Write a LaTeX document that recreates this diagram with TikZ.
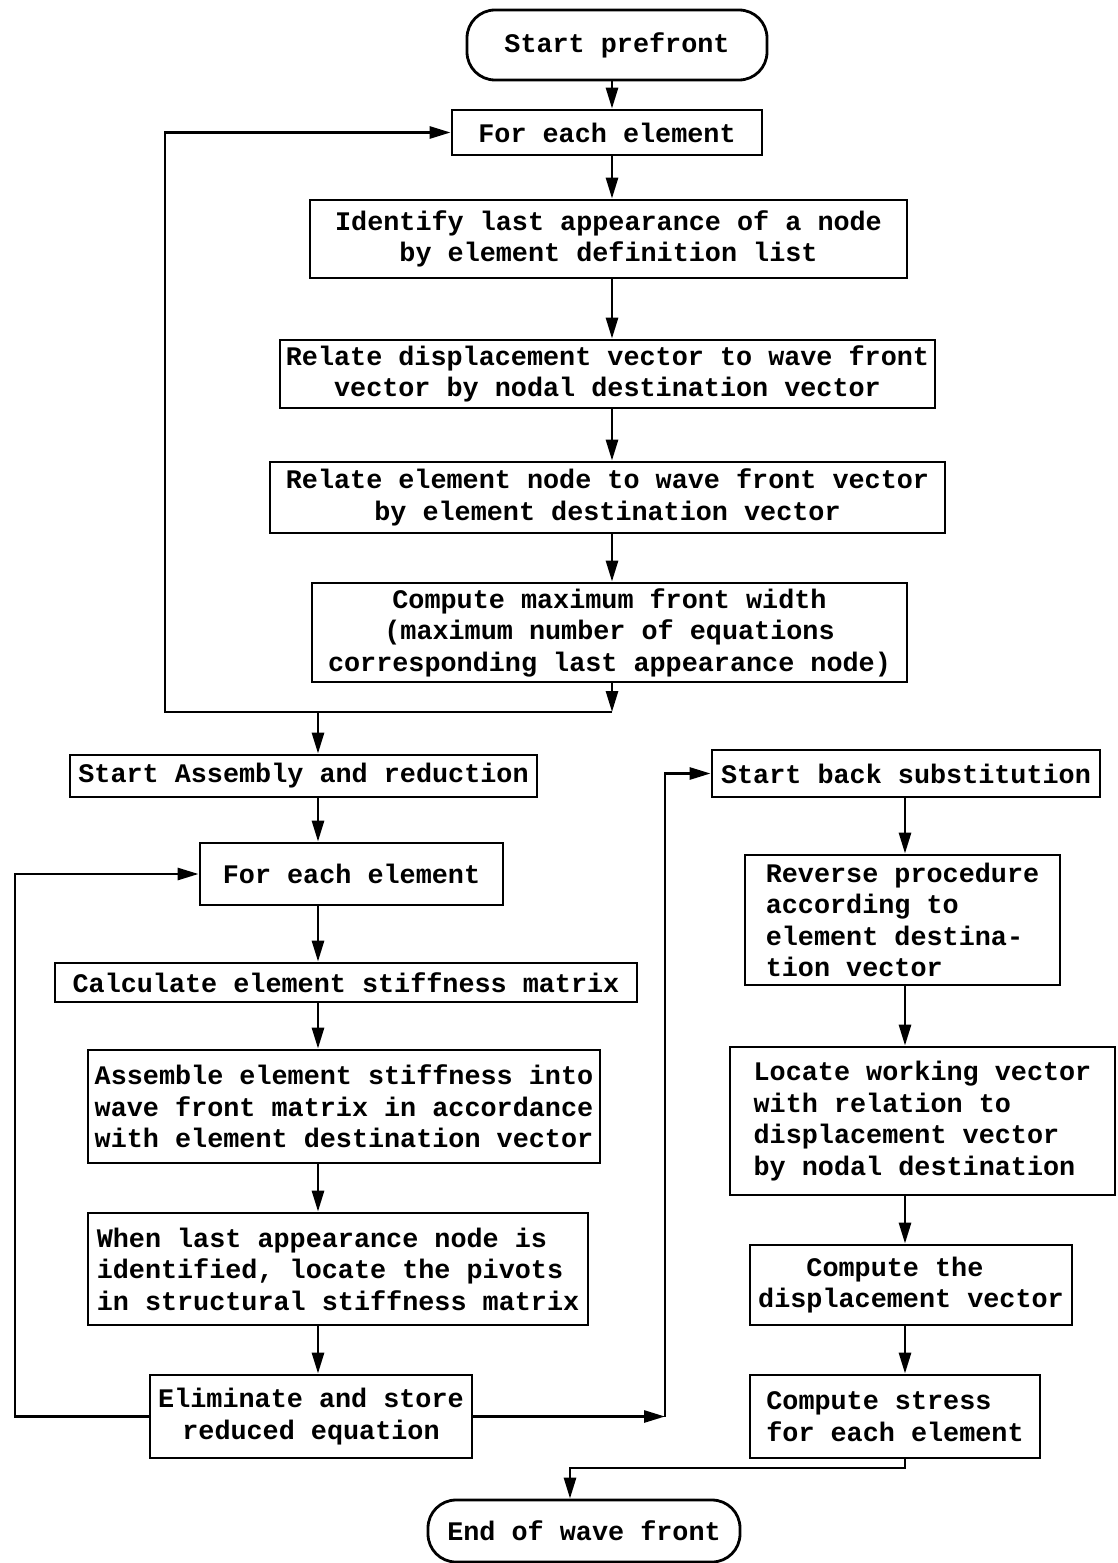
\documentclass[tikz,border=0pt]{standalone}
\usepackage{fontspec}
\setmonofont{Liberation Mono}
\usetikzlibrary{arrows.meta}
\begin{document}
\begin{tikzpicture}[x=1pt,y=-1pt,
 box/.style={draw, line width=2.8pt, inner sep=0pt,
   font=\ttfamily\bfseries\fontsize{26.8}{31.5}\selectfont, align=center},
 term/.style={box, rounded corners=28pt},
 arr/.style={line width=2.8pt, -{Triangle[length=21pt,width=12pt]}},
 ln/.style={line width=2.8pt}]
\useasboundingbox (0,0) rectangle (1117,1563);
% columns
\coordinate (colM) at (612,0);
\coordinate (colL) at (318,0);
\coordinate (colR) at (905,0);
% main column
\node[term, minimum width=300pt, minimum height=70pt] (start) at (617,45) {Start prefront};
\node[box, minimum width=310pt, minimum height=45pt] (fe1) at (607,132.5) {For each element};
\node[box, minimum width=597pt, minimum height=78pt] (ident) at (608.5,239) {Identify last appearance of a node\\by element definition list};
\node[box, minimum width=655pt, minimum height=68pt] (reld) at (607.5,374) {Relate displacement vector to wave front\\vector by nodal destination vector};
\node[box, minimum width=675pt, minimum height=71pt] (rele) at (607.5,497.5) {Relate element node to wave front vector\\by element destination vector};
\node[box, minimum width=595pt, minimum height=99pt] (cmax) at (609.5,632.5) {Compute maximum front width\\(maximum number of equations\\corresponding last appearance node)};
% left column
\node[box, minimum width=467pt, minimum height=42pt] (sa) at (303.5,776) {Start Assembly and reduction};
\node[box, minimum width=303pt, minimum height=62pt] (fe2) at (351.5,874) {For each element};
\node[box, minimum width=582pt, minimum height=39pt] (calc) at (346,982.5) {Calculate element stiffness matrix};
\node[box, minimum width=512pt, minimum height=113pt, align=left] (asm) at (344,1106.5) {Assemble element stiffness into\\wave front matrix in accordance\\with element destination vector};
\node[box, minimum width=500pt, minimum height=112pt, align=left] (when) at (338,1269) {When last appearance node is\\identified, locate the pivots\\in structural stiffness matrix};
\node[box, minimum width=322pt, minimum height=83pt] (elim) at (311,1416.5) {Eliminate and store\\reduced equation};
% right column
\node[box, minimum width=388pt, minimum height=47pt] (sb) at (906,773.5) {Start back substitution};
\node[box, minimum width=315pt, minimum height=130pt, align=left] (rev) at (902.5,920) {Reverse procedure\\according to\\element destina-\\tion vector};
\node[box, minimum width=385pt, minimum height=148pt, align=left] (loc) at (922.5,1121) {Locate working vector\\with relation to\\displacement vector\\by nodal destination};
\node[box, minimum width=322pt, minimum height=80pt, align=left] (cdisp) at (911,1285) {\hphantom{Com}Compute the\\displacement vector};
\node[box, minimum width=290pt, minimum height=83pt, align=left] (cstr) at (895,1416.5) {Compute stress\\for each element};
\node[term, minimum width=312pt, minimum height=62pt] (end) at (584,1531) {End of wave front};
% junction coordinates
\coordinate (j1) at (612,712);
\coordinate (cL1) at (165,712);
\coordinate (cL2) at (15,1416.5);
\coordinate (j2) at (665,1416.5);
\coordinate (j3) at (905,1468);
\coordinate (j4) at (570,1468);
% main column arrows
\draw[arr] (start.south -| colM) -- (fe1.north -| colM);
\draw[arr] (fe1.south -| colM) -- (ident.north -| colM);
\draw[arr] (ident.south -| colM) -- (reld.north -| colM);
\draw[arr] (reld.south -| colM) -- (rele.north -| colM);
\draw[arr] (rele.south -| colM) -- (cmax.north -| colM);
\draw[arr] (cmax.south -| colM) -- (j1);
\draw[arr] (j1) -- (cL1) |- (fe1.west);
\draw[arr] (j1 -| colL) -- (sa.north -| colL);
% left column arrows
\draw[arr] (sa.south -| colL) -- (fe2.north -| colL);
\draw[arr] (fe2.south -| colL) -- (calc.north -| colL);
\draw[arr] (calc.south -| colL) -- (asm.north -| colL);
\draw[arr] (asm.south -| colL) -- (when.north -| colL);
\draw[arr] (when.south -| colL) -- (elim.north -| colL);
\draw[arr] (elim.west) -- (cL2) |- (fe2.west);
\draw[arr] (elim.east) -- (j2);
\draw[arr] (j2) |- (sb.west);
% right column arrows
\draw[arr] (sb.south -| colR) -- (rev.north -| colR);
\draw[arr] (rev.south -| colR) -- (loc.north -| colR);
\draw[arr] (loc.south -| colR) -- (cdisp.north -| colR);
\draw[arr] (cdisp.south -| colR) -- (cstr.north -| colR);
\draw[arr] (cstr.south -| colR) -- (j3) -- (j4) -- (end.north -| j4);
\end{tikzpicture}
\end{document}
